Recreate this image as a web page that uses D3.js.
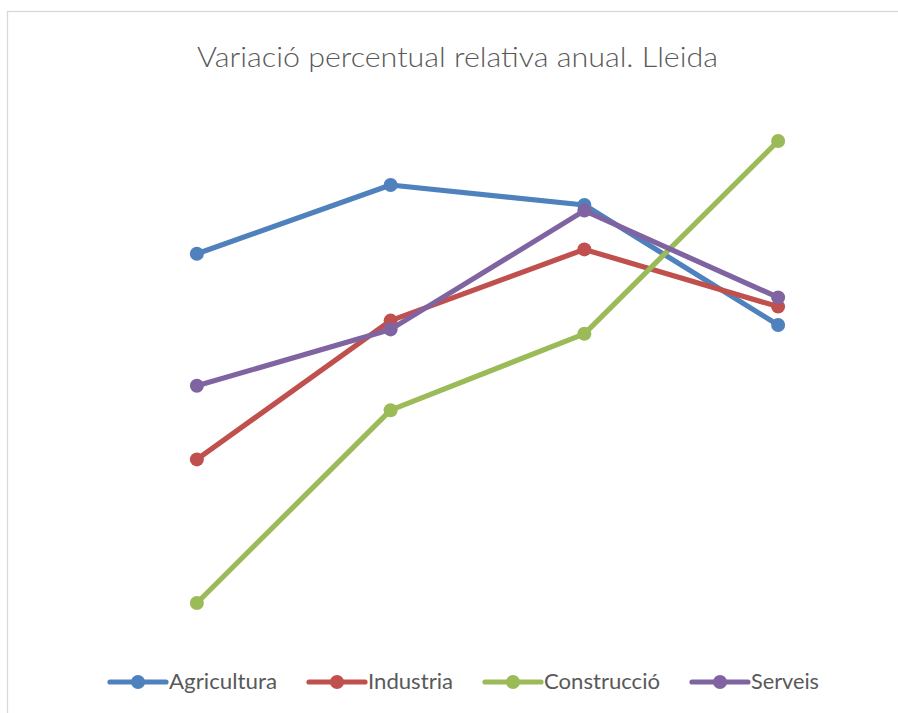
<!DOCTYPE html>
<html>
<head>
<meta charset="utf-8">
<script src="https://cdn.jsdelivr.net/npm/d3@7"></script>
<style>
    body { margin: 0; background: #ffffff; }
</style>
</head>
<body>
<div id="chart"></div>
<script>
// values (no axis shown, arbitrary % units)
let periods = ["2009", "2010", "2011", "2012"];
let seriesNames = ["Agricultura", "Industria", "Construcció", "Serveis"];
let agricultura = [3.73, 5.45, 4.95, 1.95];
let industria = [-1.41, 2.06, 3.84, 2.41];
let construccio = [-5.0, -0.18, 1.73, 6.55];
let serveis = [0.43, 1.84, 4.81, 2.64];
let colors = ["#4F81BD", "#C0504D", "#9BBB59", "#8064A2"];

let width = 898,
    height = 713;

let series = [agricultura, industria, construccio, serveis].map(function (v, i) {
    return { name: seriesNames[i], values: v, color: colors[i] };
});

let svg = d3.select("#chart")
    .append("svg")
    .attr("width", width)
    .attr("height", height)
    .style("display", "block");

// chart frame (cut off on right and bottom)
svg.append("rect")
    .attr("x", 7.5)
    .attr("y", 11.5)
    .attr("width", width + 20)
    .attr("height", height + 20)
    .style("fill", "white")
    .style("stroke", "#D9D9D9")
    .style("stroke-width", 1.3);

svg.append("text")
    .attr("x", 457.5)
    .attr("y", 67)
    .attr("textLength", 521)
    .attr("lengthAdjust", "spacingAndGlyphs")
    .text("Variació percentual relativa anual. Lleida")
    .style("text-anchor", "middle")
    .style("font-family", "Lato, 'Open Sans', sans-serif")
    .style("font-size", "28px")
    .style("font-weight", 300)
    .style("fill", "#595959");

let x = d3.scalePoint()
    .domain(periods)
    .range([100, 875])
    .padding(0.5);

let y = d3.scaleLinear()
    .domain([-6, 7])
    .range([643, 123]);

let line = d3.line()
    .x(function (d, i) { return x(periods[i]); })
    .y(function (d) { return y(d); });

series.forEach(function (s) {
    let g = svg.append("g").attr("class", "series");
    g.append("path")
        .datum(s.values)
        .attr("d", line)
        .style("fill", "none")
        .style("stroke", s.color)
        .style("stroke-width", 5.2)
        .style("stroke-linejoin", "round")
        .style("stroke-linecap", "round");
    g.selectAll("circle")
        .data(s.values)
        .enter()
        .append("circle")
        .attr("cx", function (d, i) { return x(periods[i]); })
        .attr("cy", function (d) { return y(d); })
        .attr("r", 7)
        .style("fill", s.color);
});

// legend
let legend = svg.append("g").attr("class", "legend");
let lx = 110,
    ly = 682,
    textWidths = [108, 85, 116, 68];

series.forEach(function (s, i) {
    legend.append("line")
        .attr("x1", lx)
        .attr("x2", lx + 56)
        .attr("y1", ly)
        .attr("y2", ly)
        .style("stroke", s.color)
        .style("stroke-width", 5.2)
        .style("stroke-linecap", "round");
    legend.append("circle")
        .attr("cx", lx + 28)
        .attr("cy", ly)
        .attr("r", 7)
        .style("fill", s.color);
    legend.append("text")
        .attr("x", lx + 59)
        .attr("y", ly + 7)
        .attr("textLength", textWidths[i])
        .attr("lengthAdjust", "spacingAndGlyphs")
        .text(s.name)
        .style("font-family", "Lato, 'Open Sans', sans-serif")
        .style("font-size", "21px")
        .style("fill", "#595959");
    lx += 59 + textWidths[i] + 32;
});
</script>
</body>
</html>
